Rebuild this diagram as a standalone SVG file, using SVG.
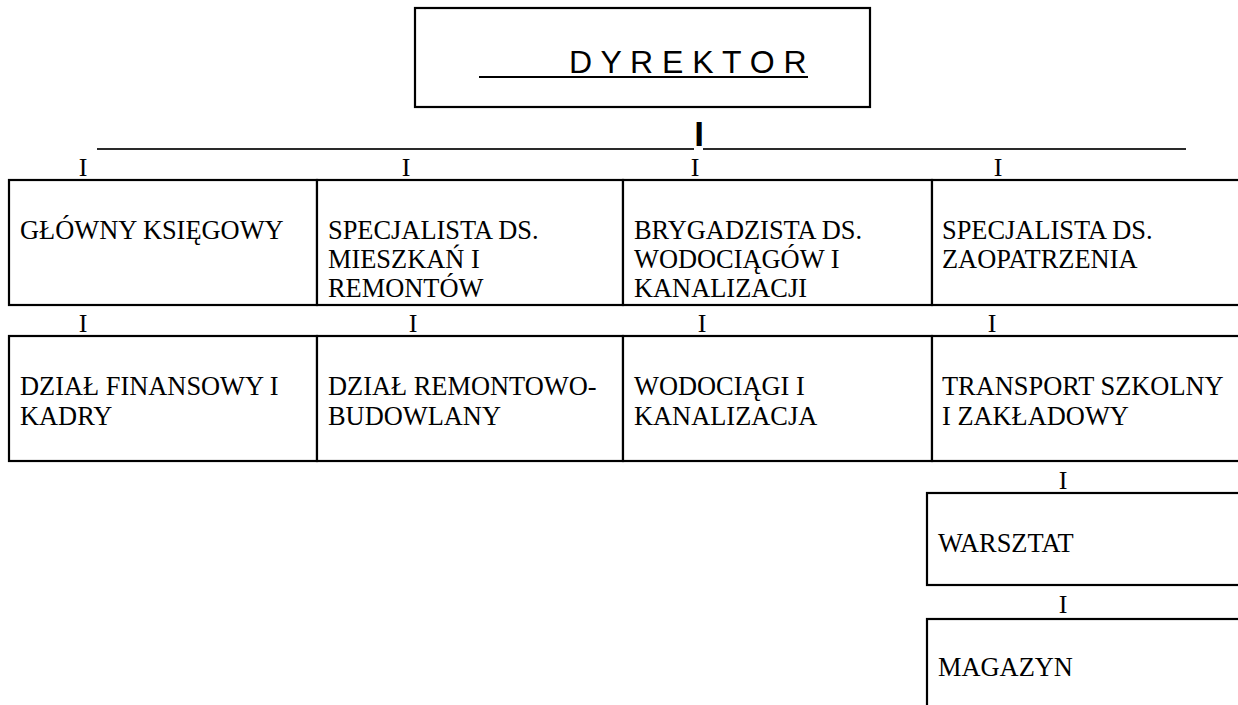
<svg xmlns="http://www.w3.org/2000/svg" width="1238" height="705" viewBox="0 0 1238 705">
<style>
.box{fill:#fff;stroke:#000;stroke-width:2.2}
.t{font-family:"Liberation Serif","Times New Roman",serif;font-size:26.4px;fill:#000}
.c{font-family:"Liberation Serif","Times New Roman",serif;font-size:26px;fill:#000;text-anchor:middle}
.ln{stroke:#2a2a2a;stroke-width:2;fill:none}
</style>
<rect width="1238" height="705" fill="#fff"/>
<g id="dyrektor">
<rect class="box" x="415" y="8" width="455" height="99"/>
<text x="569" y="73" font-family="'Liberation Sans',Arial,sans-serif" font-size="32" fill="#000">D Y R E K T O R</text>
<line x1="479" y1="77" x2="808" y2="77" stroke="#000" stroke-width="2"/>
</g>
<g id="connectors">
<line class="ln" x1="97" y1="149" x2="694" y2="149"/>
<line class="ln" x1="703" y1="149" x2="1186" y2="149"/>
<text x="699" y="146" font-family="'Liberation Sans',Arial,sans-serif" font-size="35" font-weight="bold" text-anchor="middle" fill="#000">I</text>
<text class="c" x="83" y="176">I</text>
<text class="c" x="406" y="176">I</text>
<text class="c" x="695" y="176">I</text>
<text class="c" x="998" y="176">I</text>
<text class="c" x="83" y="332">I</text>
<text class="c" x="413" y="332">I</text>
<text class="c" x="702" y="332">I</text>
<text class="c" x="992" y="332">I</text>
<text class="c" x="1063" y="489">I</text>
<text class="c" x="1063" y="613">I</text>
</g>
<g id="glowny-ksiegowy">
<rect class="box" x="9" y="180" width="308" height="125"/>
<text class="t" x="20" y="239">GŁÓWNY KSIĘGOWY</text>
</g>
<g id="specjalista-mieszkan">
<rect class="box" x="317" y="180" width="306" height="125"/>
<text class="t" x="328" y="239">SPECJALISTA DS.</text>
<text class="t" x="328" y="268">MIESZKAŃ I</text>
<text class="t" x="328" y="297">REMONTÓW</text>
</g>
<g id="brygadzista">
<rect class="box" x="623" y="180" width="309" height="125"/>
<text class="t" x="634" y="239">BRYGADZISTA DS.</text>
<text class="t" x="634" y="268">WODOCIĄGÓW I</text>
<text class="t" x="634" y="297">KANALIZACJI</text>
</g>
<g id="specjalista-zaopatrzenia">
<rect class="box" x="932" y="180" width="320" height="125"/>
<text class="t" x="942" y="239">SPECJALISTA DS.</text>
<text class="t" x="942" y="268">ZAOPATRZENIA</text>
</g>
<g id="dzial-finansowy">
<rect class="box" x="9" y="336" width="308" height="125"/>
<text class="t" x="20" y="395">DZIAŁ FINANSOWY I</text>
<text class="t" x="20" y="425">KADRY</text>
</g>
<g id="dzial-remontowo">
<rect class="box" x="317" y="336" width="306" height="125"/>
<text class="t" x="328" y="395">DZIAŁ REMONTOWO-</text>
<text class="t" x="328" y="425">BUDOWLANY</text>
</g>
<g id="wodociagi">
<rect class="box" x="623" y="336" width="309" height="125"/>
<text class="t" x="634" y="395">WODOCIĄGI I</text>
<text class="t" x="634" y="425">KANALIZACJA</text>
</g>
<g id="transport">
<rect class="box" x="932" y="336" width="320" height="125"/>
<text class="t" x="942" y="395">TRANSPORT SZKOLNY</text>
<text class="t" x="942" y="425">I ZAKŁADOWY</text>
</g>
<g id="warsztat">
<rect class="box" x="927" y="493" width="325" height="92"/>
<text class="t" x="938" y="552">WARSZTAT</text>
</g>
<g id="magazyn">
<rect class="box" x="927" y="619" width="325" height="100"/>
<text class="t" x="938" y="676">MAGAZYN</text>
</g>
</svg>
